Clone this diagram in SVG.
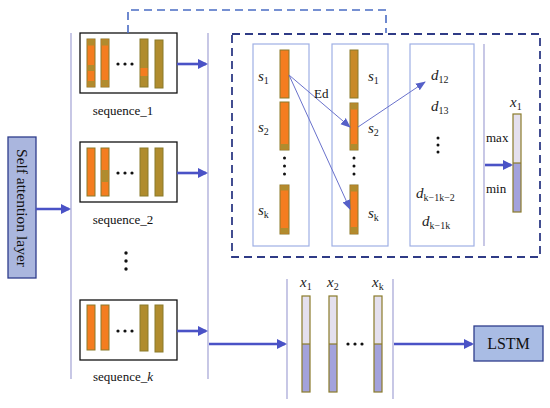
<svg xmlns="http://www.w3.org/2000/svg" width="550" height="408" viewBox="0 0 550 408">
<style>
.serif{font-family:"Liberation Serif","Times New Roman",serif;fill:#111}
.math{font-family:"Liberation Serif","Times New Roman",serif;font-style:italic;fill:#222}
.sub{font-style:normal;font-size:10px}
.seqbox{fill:#fff;stroke:#111;stroke-width:1.3}
.bar{stroke:#8a7b2a;stroke-width:1}
.or{fill:#f47d20}
.ol{fill:#b08c2e}
.panel{fill:none;stroke:#9fb0e4;stroke-width:1.2}
.vline{stroke:#aaaad8;stroke-width:1.3;fill:none}
.thick{stroke:#4a52c6;stroke-width:2.6;fill:none}
.thin{stroke:#6a72cc;stroke-width:1;fill:none}
.xtop{fill:#e4e0ee}
.xbot{fill:#a3a2dc}
.xbar{fill:none;stroke:#8a7b2a;stroke-width:1.2}
.dot{fill:#111}
</style>
<defs>
<marker id="ah" markerWidth="10" markerHeight="10" refX="8" refY="5" orient="auto" markerUnits="userSpaceOnUse">
<path d="M0,0 L10,5 L0,10 z" fill="#4a52c6"/>
</marker>
<marker id="ahs" markerWidth="10" markerHeight="10" refX="9" refY="5" orient="auto" markerUnits="userSpaceOnUse">
<path d="M0,1 L10,5 L0,9 z" fill="#5560c8"/>
</marker>
</defs>

<g id="lines">
<line class="vline" x1="71" y1="33" x2="71" y2="379"/>
<line class="vline" x1="208" y1="33" x2="208" y2="379"/>
<line class="vline" x1="287" y1="279" x2="287" y2="399"/>
<line class="vline" x1="393" y1="279" x2="393" y2="399"/>
<line class="vline" x1="484" y1="44" x2="484" y2="246"/>
</g>

<g id="self-attention">
<rect x="8" y="137" width="28" height="141" fill="#aab6de" stroke="#2e3d8c" stroke-width="1.3"/>
<text class="serif" font-size="15.5" transform="translate(17,208) rotate(90)" text-anchor="middle">Self attention layer</text>
</g>

<g id="sequence_1">
<rect class="seqbox" x="80" y="33" width="97" height="60"/>
<rect class="bar or" x="87" y="39" width="8" height="48"/>
<rect class="ol" x="87.5" y="39.5" width="7" height="6"/><rect class="ol" x="87.5" y="65" width="7" height="6"/><rect class="ol" x="87.5" y="81" width="7" height="5.5"/>
<rect class="bar or" x="101" y="39" width="8" height="48"/>
<rect class="ol" x="101.5" y="39.5" width="7" height="6"/><rect class="ol" x="101.5" y="80" width="7" height="6.5"/>
<rect class="bar ol" x="140" y="39" width="8" height="48"/>
<rect class="or" x="140.5" y="68" width="7" height="8"/>
<rect class="bar ol" x="155" y="40" width="8" height="48"/>
<circle class="dot" cx="118" cy="64" r="1.6"/><circle class="dot" cx="125" cy="64" r="1.6"/><circle class="dot" cx="132" cy="64" r="1.6"/>
<text class="serif" font-size="13" x="123" y="115" text-anchor="middle">sequence_1</text>
</g>

<g id="sequence_2">
<rect class="seqbox" x="80" y="142" width="97" height="60"/>
<rect class="bar or" x="87" y="148" width="8" height="48"/>
<rect class="bar or" x="101" y="148" width="8" height="48"/>
<rect class="ol" x="101.5" y="170" width="7" height="12"/>
<rect class="bar ol" x="140" y="148" width="8" height="48"/>
<rect class="bar ol" x="155" y="148" width="8" height="48"/>
<circle class="dot" cx="118" cy="173" r="1.6"/><circle class="dot" cx="125" cy="173" r="1.6"/><circle class="dot" cx="132" cy="173" r="1.6"/>
<text class="serif" font-size="13" x="123" y="224" text-anchor="middle">sequence_2</text>
</g>

<g id="vdots">
<circle class="dot" cx="126" cy="253" r="1.7"/><circle class="dot" cx="126" cy="261" r="1.7"/><circle class="dot" cx="126" cy="269" r="1.7"/>
</g>

<g id="sequence_k">
<rect class="seqbox" x="80" y="300" width="97" height="60"/>
<rect class="bar or" x="87" y="305" width="8" height="45"/>
<rect class="bar or" x="101" y="305" width="8" height="45"/>
<rect class="bar ol" x="140" y="305" width="8" height="46"/>
<rect class="bar ol" x="155" y="305" width="8" height="47"/>
<circle class="dot" cx="118" cy="331" r="1.6"/><circle class="dot" cx="125" cy="331" r="1.6"/><circle class="dot" cx="132" cy="331" r="1.6"/>
<text class="serif" font-size="13" x="123" y="381" text-anchor="middle">sequence_<tspan font-style="italic">k</tspan></text>
</g>

<g id="distance-module">
<rect x="232" y="34" width="308" height="223" fill="none" stroke="#2f3b86" stroke-width="1.8" stroke-dasharray="8,5"/>
<rect class="panel" x="253" y="44" width="56" height="202"/>
<rect class="bar or" x="280" y="50" width="9" height="48"/>
<rect class="bar or" x="280" y="102" width="9" height="48"/>
<rect class="ol" x="280.5" y="144" width="8" height="5.5"/>
<rect class="bar or" x="280" y="185" width="9" height="49"/>
<rect class="ol" x="280.5" y="185.5" width="8" height="5"/><rect class="ol" x="280.5" y="228" width="8" height="5.5"/>
<circle class="dot" cx="284.5" cy="158" r="1.5"/><circle class="dot" cx="284.5" cy="166" r="1.5"/><circle class="dot" cx="284.5" cy="174" r="1.5"/>
<text class="math" font-size="15" x="258" y="81">s<tspan class="sub" dy="3">1</tspan></text>
<text class="math" font-size="15" x="258" y="132">s<tspan class="sub" dy="3">2</tspan></text>
<text class="math" font-size="15" x="258" y="215">s<tspan class="sub" dy="3">k</tspan></text>
<rect class="panel" x="332" y="44" width="56" height="202"/>
<rect class="bar" x="350" y="50" width="8" height="48" fill="#c88a28"/>
<rect class="bar or" x="350" y="103" width="8" height="47"/>
<rect class="ol" x="350.5" y="103.5" width="7" height="6"/><rect class="ol" x="350.5" y="144" width="7" height="5.5"/>
<rect class="bar or" x="350" y="185" width="8" height="49"/>
<rect class="ol" x="350.5" y="185.5" width="7" height="6"/><rect class="ol" x="350.5" y="227" width="7" height="6.5"/>
<circle class="dot" cx="354" cy="158" r="1.5"/><circle class="dot" cx="354" cy="166" r="1.5"/><circle class="dot" cx="354" cy="174" r="1.5"/>
<text class="math" font-size="15" x="368" y="81">s<tspan class="sub" dy="3">1</tspan></text>
<text class="math" font-size="15" x="368" y="133">s<tspan class="sub" dy="3">2</tspan></text>
<text class="math" font-size="15" x="368" y="218">s<tspan class="sub" dy="3">k</tspan></text>
<rect class="panel" x="410" y="44" width="64" height="202"/>
<text class="math" font-size="15" x="431" y="80">d<tspan class="sub" dy="3">12</tspan></text>
<text class="math" font-size="15" x="431" y="111">d<tspan class="sub" dy="3">13</tspan></text>
<circle class="dot" cx="438" cy="138" r="1.5"/><circle class="dot" cx="438" cy="145" r="1.5"/><circle class="dot" cx="438" cy="152" r="1.5"/>
<text class="math" font-size="15" x="416" y="198">d<tspan class="sub" dy="3">k−1k−2</tspan></text>
<text class="math" font-size="15" x="422" y="226">d<tspan class="sub" dy="3">k−1k</tspan></text>
<rect class="xtop" x="513" y="114" width="8" height="49"/>
<rect class="xbot" x="513" y="163" width="8" height="49"/>
<rect class="xbar" x="513" y="114" width="8" height="98"/>
<line class="xbar" x1="513" y1="163" x2="521" y2="163"/>
<text class="math" font-size="15" x="510" y="107">x<tspan class="sub" dy="3">1</tspan></text>
<text class="serif" font-size="13" x="486" y="142">max</text>
<text class="serif" font-size="13" x="486" y="193">min</text>
</g>

<g id="lstm-input">
<rect class="xtop" x="302" y="296" width="8" height="48"/><rect class="xbot" x="302" y="344" width="8" height="48"/>
<rect class="xbar" x="302" y="296" width="8" height="96"/><line class="xbar" x1="302" y1="344" x2="310" y2="344"/>
<rect class="xtop" x="329" y="296" width="8" height="48"/><rect class="xbot" x="329" y="344" width="8" height="48"/>
<rect class="xbar" x="329" y="296" width="8" height="96"/><line class="xbar" x1="329" y1="344" x2="337" y2="344"/>
<rect class="xtop" x="374" y="296" width="8" height="48"/><rect class="xbot" x="374" y="344" width="8" height="48"/>
<rect class="xbar" x="374" y="296" width="8" height="96"/><line class="xbar" x1="374" y1="344" x2="382" y2="344"/>
<circle class="dot" cx="348" cy="344" r="1.6"/><circle class="dot" cx="355" cy="344" r="1.6"/><circle class="dot" cx="362" cy="344" r="1.6"/>
<text class="math" font-size="15" x="300" y="287">x<tspan class="sub" dy="3">1</tspan></text>
<text class="math" font-size="15" x="327" y="287">x<tspan class="sub" dy="3">2</tspan></text>
<text class="math" font-size="15" x="372" y="287">x<tspan class="sub" dy="3">k</tspan></text>
</g>

<g id="lstm">
<rect x="474" y="326" width="69" height="35" fill="#a9bce4" stroke="#2e3d8c" stroke-width="1.3"/>
<text class="serif" font-size="16" x="508.5" y="349" text-anchor="middle">LSTM</text>
</g>

<g id="connectors">
<path d="M128,33 V10 H386 V33" fill="none" stroke="#4a6cc4" stroke-width="1.6" stroke-dasharray="8,5"/>
<line class="thick" x1="36" y1="209" x2="69" y2="209" marker-end="url(#ah)"/>
<line class="thick" x1="177" y1="64" x2="206" y2="64" marker-end="url(#ah)"/>
<line class="thick" x1="177" y1="173" x2="206" y2="173" marker-end="url(#ah)"/>
<line class="thick" x1="177" y1="331" x2="206" y2="331" marker-end="url(#ah)"/>
<line class="thick" x1="209" y1="344" x2="285" y2="344" marker-end="url(#ah)"/>
<line class="thick" x1="394" y1="344" x2="472" y2="344" marker-end="url(#ah)"/>
<line class="thick" x1="485" y1="165" x2="511" y2="165" marker-end="url(#ah)"/>
<line class="thin" x1="289" y1="75" x2="350" y2="127" marker-end="url(#ahs)"/>
<line class="thin" x1="289" y1="75" x2="350" y2="209" marker-end="url(#ahs)"/>
<line class="thin" x1="358" y1="127" x2="425" y2="82" marker-end="url(#ahs)"/>
<text class="serif" font-size="13" x="314" y="98">Ed</text>
</g>
</svg>
